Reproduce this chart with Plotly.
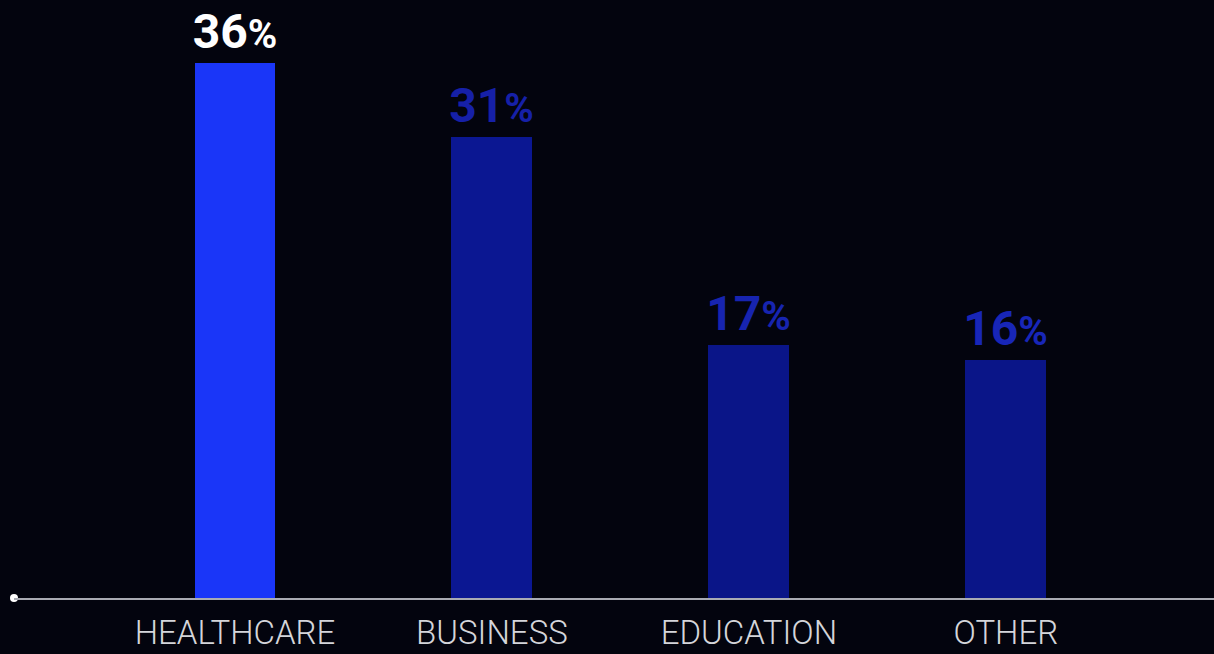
import plotly.graph_objects as go

# Share of respondents by sector
categories = ["HEALTHCARE", "BUSINESS", "EDUCATION", "OTHER"]
shares = [36, 31, 17, 16]
label_text = ["36", "31", "17", "16"]

bar_colors = ["#1a36f8", "#0b1792", "#0a1588", "#0a1588"]
label_colors = ["#ffffff", "#1620a8", "#1724b0", "#1826b8"]

positions = list(range(len(categories)))
texts = [f"{t}<span style='font-size:40px'>%</span>" for t in label_text]

fig = go.Figure()
fig.add_trace(go.Bar(
    x=positions,
    y=shares,
    width=0.315,
    marker=dict(color=bar_colors, line=dict(width=0)),
    text=texts,
    textposition="outside",
    textfont=dict(family="Roboto", size=48, color=label_colors, weight="bold"),
    constraintext="none",
    cliponaxis=False,
    hoverinfo="skip",
))

# Dot marking the start of the baseline
fig.add_trace(go.Scatter(
    x=[-0.86], y=[0], mode="markers",
    marker=dict(color="#ffffff", size=8),
    cliponaxis=False, hoverinfo="skip",
))

fig.update_layout(
    width=1214, height=654,
    margin=dict(l=14, r=0, t=0, b=56),
    paper_bgcolor="#03040e",
    plot_bgcolor="#03040e",
    showlegend=False,
    bargap=0,
)
fig.update_xaxes(
    range=[-0.86, 3.81],
    tickmode="array", tickvals=positions, ticktext=categories,
    showgrid=False, zeroline=False,
    showline=True, linecolor="#a9abb3", linewidth=2,
    ticks="", ticklen=0, ticklabelstandoff=4,
    automargin=False,
    tickfont=dict(family="Roboto", size=33, color="#d4d5da", weight=300),
)
fig.update_yaxes(
    range=[0, 40.24],
    showgrid=False, zeroline=False, showticklabels=False, showline=False,
    automargin=False,
)

fig.write_html("out.html")
